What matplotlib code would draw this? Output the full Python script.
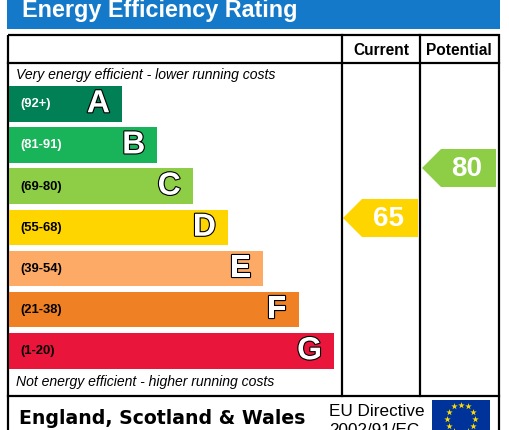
import matplotlib
matplotlib.use("Agg")
import matplotlib.pyplot as plt
import matplotlib.patheffects as pe
from matplotlib.patches import Rectangle, Polygon
import numpy as np

# ---- data ----
bands = ['A', 'B', 'C', 'D', 'E', 'F', 'G']
ranges = ['(92+)', '(81-91)', '(69-80)', '(55-68)', '(39-54)', '(21-38)', '(1-20)']
band_min = [92, 81, 69, 55, 39, 21, 1]
band_colors = ['#008054', '#19b459', '#8dce46', '#ffd500', '#fcaa65', '#ef8023', '#e9153b']
range_text_colors = ['white', 'white', 'black', 'black', 'black', 'black', 'black']
current_rating = 65
potential_rating = 80
title = 'Energy Efficiency Rating'
col_headers = ['Current', 'Potential']
top_note = 'Very energy efficient - lower running costs'
bottom_note = 'Not energy efficient - higher running costs'
footer_region = 'England, Scotland & Wales'
footer_directive = ['EU Directive', '2002/91/EC']

W, H = 509, 430
fig = plt.figure(figsize=(W / 100, H / 100), dpi=100)
ax = fig.add_axes([0, 0, 1, 1])
ax.set_xlim(0, W)
ax.set_ylim(H, 0)
ax.axis('off')

LW = 1.6
FONT = 'Liberation Sans'

# title bar
ax.add_patch(Rectangle((7, -2), 493, 31, color='#1479c8', lw=0))
ax.text(22, 17.5, title, color='white', fontsize=16.8, fontweight='bold',
        family=FONT, va='baseline', ha='left')

# frame
ax.add_patch(Rectangle((8, 35), 491, 420, fill=False, ec='black', lw=LW))
ax.plot([8, 499], [63, 63], color='black', lw=LW)
ax.plot([8, 499], [396, 396], color='black', lw=LW)
for xv in (342, 420):
    ax.plot([xv, xv], [35, 396], color='black', lw=LW)

ax.text(381, 55, col_headers[0], fontsize=11.2, fontweight='bold', family=FONT,
        ha='center', va='baseline')
ax.text(459, 55, col_headers[1], fontsize=11.2, fontweight='bold', family=FONT,
        ha='center', va='baseline')

ax.text(16, 79, top_note, fontsize=10.1, style='italic', family=FONT, va='baseline')
ax.text(16, 386, bottom_note, fontsize=10.1, style='italic', family=FONT, va='baseline')

# bars
n = len(bands)
idx = np.arange(n)
centers = 86 + idx * 41.17 + 17.75
rights = 122 + idx * 35.33
left = 9
ax.barh(centers, rights - left, left=left, height=35.5, color=band_colors, lw=0)
for i in range(n):
    ax.text(20, centers[i] + 0.5, ranges[i], fontsize=9.4, fontweight='bold', family=FONT,
            color=range_text_colors[i], ha='left', va='center')
    ax.text(rights[i] - 12, centers[i] + 0.5, bands[i], fontsize=23, fontweight='bold',
            family=FONT, color='white', ha='right', va='center',
            path_effects=[pe.withStroke(linewidth=1.6, foreground='black')])


def rating_color(v):
    for mn, c in zip(band_min, band_colors):
        if v >= mn:
            return c
    return band_colors[-1]


def rating_y(v):
    return 434.67 - v * 10.0 / 3.0


def arrow(v, x_tip, x_right):
    yc = rating_y(v)
    h = 19
    body = x_tip + 19
    pts = [(x_tip, yc), (body, yc - h), (x_right, yc - h), (x_right, yc + h), (body, yc + h)]
    ax.add_patch(Polygon(pts, closed=True, color=rating_color(v), lw=0))
    ax.text(x_right - 14, yc + 0.5, str(v), fontsize=20, fontweight='bold', family=FONT,
            color='white', ha='right', va='center')


arrow(current_rating, 343, 418)
arrow(potential_rating, 422, 496)

# footer
ax.text(19, 424, footer_region, fontsize=13.6, fontweight='bold', family='DejaVu Sans',
        va='baseline', ha='left')
ax.text(329, 416, footer_directive[0], fontsize=12.3, family=FONT, va='baseline', ha='left')
ax.text(329, 435, footer_directive[1], fontsize=12.3, family=FONT, va='baseline', ha='left')

# EU flag
ax.add_patch(Rectangle((432, 399.5), 58, 39, color='#003399', lw=0))
ang = np.arange(12) * np.pi / 6
cx, cy, r = 461, 418.5, 14
ax.scatter(cx + r * np.sin(ang), cy - r * np.cos(ang), marker='*', s=24, color='#ffdd00', lw=0)

fig.savefig('out.png', dpi=100)
